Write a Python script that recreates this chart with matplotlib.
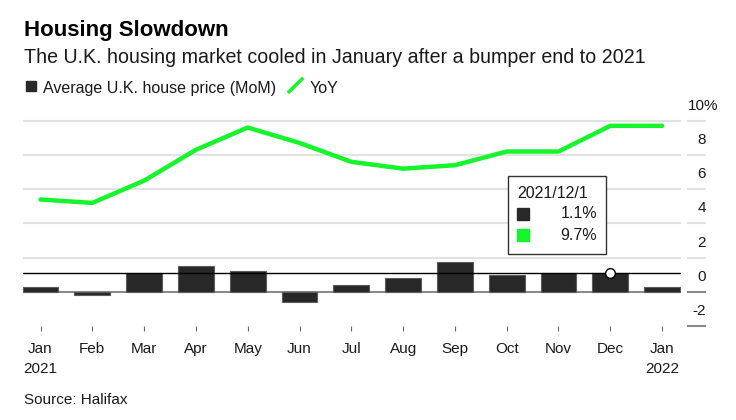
import matplotlib
matplotlib.use('Agg')
import matplotlib.pyplot as plt
from matplotlib import transforms
from matplotlib.patches import Rectangle
from matplotlib.lines import Line2D

plt.rcParams['font.family'] = ['Liberation Sans', 'DejaVu Sans']

# Data
months = ['Jan', 'Feb', 'Mar', 'Apr', 'May', 'Jun', 'Jul',
          'Aug', 'Sep', 'Oct', 'Nov', 'Dec', 'Jan']
years = ['2021', '', '', '', '', '', '', '', '', '', '', '', '2022']
mom = [0.3, -0.15, 1.1, 1.5, 1.2, -0.6, 0.4, 0.8, 1.75, 1.0, 1.1, 1.1, 0.3]
yoy = [5.4, 5.2, 6.5, 8.3, 9.6, 8.7, 7.6, 7.2, 7.4, 8.2, 8.2, 9.7, 9.7]
y_ticks = [-2, 0, 2, 4, 6, 8, 10]
hover = 11
hover_date = '2021/12/1'

bar_color = '#282828'
line_color = '#14f52c'
text_color = '#1a1a1a'

W, H = 736, 420
fig = plt.figure(figsize=(W / 100, H / 100), dpi=100)


def fx(px):
    return px / W


def fy(py):
    return 1 - py / H


# Plot area
ax = fig.add_axes([fx(23), fy(326.3), (681 - 23) / W, (326.3 - 110.4) / H])
x = list(range(len(months)))
ax.set_xlim(-0.338, 12.365)
ax.set_ylim(-2, 10.6)

for v in y_ticks[2:]:
    ax.axhline(v, color='#e2e2e2', lw=1.5, zorder=1)
ax.axhline(0, color='#8a8a8a', lw=1.5, zorder=1)

ax.bar(x, mom, width=0.69, color=bar_color, edgecolor='#5c5c5c', lw=0.8, zorder=2)
ax.axhline(mom[hover], color='black', lw=1, zorder=3)
ax.plot(x, yoy, color=line_color, lw=3.2, solid_capstyle='round', zorder=4)
ax.plot(hover, mom[hover], 'o', ms=7, mfc='white', mec='black', mew=1, zorder=5)

for s in ax.spines.values():
    s.set_visible(False)
ax.set_yticks([])
ax.set_xticks(x)
ax.set_xticklabels([m + ('\n' + y if y else '') for m, y in zip(months, years)],
                   fontsize=11, color=text_color, linespacing=1.5)
ax.tick_params(axis='x', length=3.6, width=0.8, color='#666666', pad=8)

# Right-hand value axis (labels sit above their gridlines)
trans = transforms.blended_transform_factory(fig.transFigure, ax.transData)
up = transforms.ScaledTranslation(0, 0.15, fig.dpi_scale_trans)
for v in y_ticks:
    col = '#8a8a8a' if v <= 0 else '#e2e2e2'
    ax.add_line(Line2D([fx(688), fx(705)], [v, v], transform=trans,
                       color=col, lw=1.5, clip_on=False))
    if v == 10:
        ax.text(fx(688), v, '10%', transform=trans + up, ha='left', va='center',
                fontsize=11, color=text_color, clip_on=False)
    else:
        ax.text(fx(706), v, str(v), transform=trans + up, ha='right', va='center',
                fontsize=11, color=text_color, clip_on=False)

# Tooltip for Dec 2021
fig.add_artist(Rectangle((fx(508), fy(254)), (605.7 - 508) / W, (254 - 175.7) / H,
                         transform=fig.transFigure, facecolor='white',
                         edgecolor='#333333', lw=1, zorder=10))
fig.text(fx(517.5), fy(194), hover_date, fontsize=11.5, color=text_color,
         va='center', ha='left', zorder=11)
fig.add_artist(Rectangle((fx(517.3), fy(220)), 12 / W, 12 / H,
                         transform=fig.transFigure, color=bar_color, zorder=11))
fig.add_artist(Rectangle((fx(517.3), fy(241)), 12 / W, 12 / H,
                         transform=fig.transFigure, color=line_color, zorder=11))
fig.text(fx(597), fy(214), f'{mom[hover]:.1f}%', fontsize=11.5, color=text_color,
         va='center', ha='right', zorder=11)
fig.text(fx(597), fy(235), f'{yoy[hover]:.1f}%', fontsize=11.5, color=text_color,
         va='center', ha='right', zorder=11)

# Title, subtitle, legend, source
fig.text(fx(24), fy(35.7), 'Housing Slowdown', fontsize=16, fontweight='bold',
         color='black', va='baseline')
fig.text(fx(24), fy(63.3),
         'The U.K. housing market cooled in January after a bumper end to 2021',
         fontsize=14.1, color=text_color, va='baseline')

fig.add_artist(Rectangle((fx(26), fy(91)), 10 / W, 10 / H,
                         transform=fig.transFigure, color=bar_color))
fig.text(fx(43), fy(92.7), 'Average U.K. house price (MoM)', fontsize=11.5,
         color=text_color, va='baseline')
fig.add_artist(Line2D([fx(289), fx(302)], [fy(91.7), fy(79)],
                      transform=fig.transFigure, color=line_color, lw=2.5))
fig.text(fx(310), fy(92.7), 'YoY', fontsize=11.5, color=text_color, va='baseline')

fig.text(fx(24), fy(404), 'Source: Halifax', fontsize=11, color=text_color,
         va='baseline')

fig.savefig('out.png', dpi=100)
